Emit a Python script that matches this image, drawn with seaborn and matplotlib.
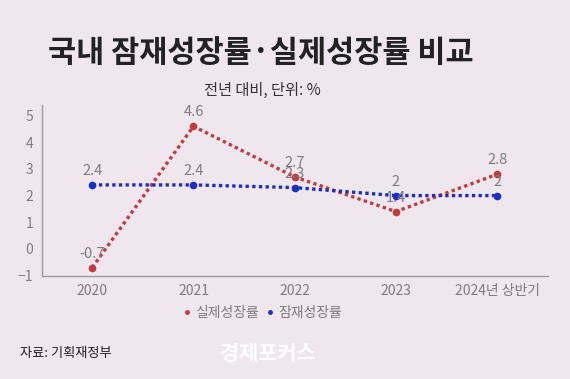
import pandas as pd
import matplotlib.pyplot as plt
import seaborn as sns
from matplotlib.lines import Line2D

# 데이터
periods = ["2020", "2021", "2022", "2023", "2024년 상반기"]
actual = [-0.7, 4.6, 2.7, 1.4, 2.8]      # 실제성장률
potential = [2.4, 2.4, 2.3, 2, 2]         # 잠재성장률
y_ticks = [-1, 0, 1, 2, 3, 4, 5]

bg = "#efe6ee"
red = "#c23b3f"
blue = "#1c2fc4"
gray = "#7d7d7d"

sns.set_theme(style="white")
plt.rcParams["font.family"] = ["Noto Sans CJK KR", "DejaVu Sans"]

df = pd.DataFrame({"x": range(len(periods)), "실제성장률": actual, "잠재성장률": potential})

fig = plt.figure(figsize=(5.7, 3.79), dpi=100, facecolor=bg)
ax = fig.add_axes([0.073, 0.273, 0.888, 0.450])
ax.set_facecolor(bg)

sns.lineplot(data=df, x="x", y="실제성장률", ax=ax, color=red, lw=2.4,
             linestyle=(0, (1, 1)), marker="o", markersize=5.5, markeredgewidth=0, zorder=3)
sns.lineplot(data=df, x="x", y="잠재성장률", ax=ax, color=blue, lw=2.4,
             linestyle=(0, (1, 1)), marker="o", markersize=5.5, markeredgewidth=0, zorder=3)

# 데이터 레이블
for i in range(len(periods)):
    ax.annotate(f"{actual[i]:g}", (i, actual[i]), xytext=(0, 5), textcoords="offset points",
                ha="center", va="bottom", fontsize=10.5, color=gray)
    ax.annotate(f"{potential[i]:g}", (i, potential[i]), xytext=(0, 5), textcoords="offset points",
                ha="center", va="bottom", fontsize=10.5, color=gray)

ax.set_xlim(-0.5, 4.5)
ax.set_ylim(-1, 5.4)
ax.set_xticks(range(len(periods)))
ax.set_xticklabels(periods)
ax.set_yticks(y_ticks)
ax.set_yticklabels(["−1" if t < 0 else str(t) for t in y_ticks])
ax.tick_params(axis="both", length=0, labelsize=10, colors=gray, pad=6)
ax.set_xlabel("")
ax.set_ylabel("")
for s in ["top", "right"]:
    ax.spines[s].set_visible(False)
for s in ["left", "bottom"]:
    ax.spines[s].set_color("#9a9a9a")
    ax.spines[s].set_linewidth(1)

# 범례
handles = [Line2D([], [], color=red, marker="o", markersize=2.5, lw=0),
           Line2D([], [], color=blue, marker="o", markersize=2.5, lw=0)]
fig.legend(handles, ["실제성장률", "잠재성장률"], loc="center", bbox_to_anchor=(0.46, 0.174),
           ncol=2, frameon=False, fontsize=10, labelcolor=gray, handlelength=0.6,
           handletextpad=0.3, columnspacing=0.5)

# 제목
fig.text(0.458, 0.86, "국내 잠재성장률·실제성장률 비교", ha="center", va="center",
         fontsize=22, fontweight="heavy", color="#222222")
fig.text(0.46, 0.76, "전년 대비, 단위: %", ha="center", va="center", fontsize=11, color="#333333")
fig.text(0.035, 0.068, "자료: 기획재정부", ha="left", va="center", fontsize=9.5, color="#222222")
fig.text(0.47, 0.068, "경제포커스", ha="center", va="center", fontsize=15,
         fontweight="bold", color="white")

fig.savefig("out.png", dpi=100, facecolor=bg)
